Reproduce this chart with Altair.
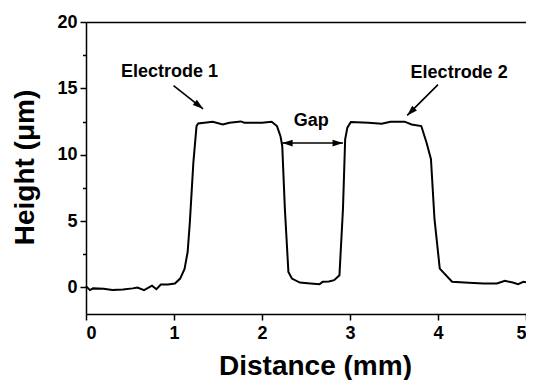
import altair as alt
import pandas as pd

# Profile data
x_mm = [0.0, 0.045, 0.08, 0.2, 0.30, 0.42, 0.53, 0.585, 0.66, 0.75, 0.80, 0.85, 0.93,
        1.01, 1.07, 1.12, 1.155, 1.18, 1.22, 1.256, 1.275, 1.44, 1.555, 1.63, 1.76, 1.80,
        1.9, 2.0, 2.11, 2.17, 2.21, 2.23, 2.26, 2.30, 2.34, 2.43, 2.55, 2.655, 2.69, 2.76,
        2.82, 2.88, 2.92, 2.945, 2.97, 3.01, 3.21, 3.36, 3.46, 3.62, 3.70, 3.81, 3.87,
        3.92, 3.96, 4.02, 4.16, 4.35, 4.52, 4.67, 4.76, 4.85, 4.91, 4.97, 5.0]
height_um = [0.1, -0.2, -0.07, -0.1, -0.2, -0.15, -0.07, 0.0, -0.2, 0.13, -0.13, 0.22, 0.22,
             0.3, 0.67, 1.4, 2.67, 4.9, 9.4, 12.16, 12.36, 12.49, 12.28, 12.41, 12.51, 12.41,
             12.41, 12.41, 12.49, 12.16, 11.4, 10.66, 5.9, 1.17, 0.67, 0.37, 0.3, 0.25, 0.43, 0.45,
             0.55, 0.92, 5.9, 11.16, 12.04, 12.46, 12.41, 12.33, 12.49, 12.49, 12.28, 12.16, 10.9,
             9.66, 5.17, 1.42, 0.43, 0.35, 0.3, 0.3, 0.5, 0.37, 0.25, 0.43, 0.4]

# Annotations
label_text = ["Electrode 1", "Electrode 2", "Gap"]
label_x = [0.95, 4.24, 2.56]
label_y = [15.88, 15.8, 12.2]

arrow_x1 = [0.995, 4.0, 2.23]
arrow_y1 = [15.2, 15.28, 10.88]
arrow_x2 = [1.33, 3.65, 2.92]
arrow_y2 = [13.46, 12.96, 10.88]

head_x = [1.33, 3.65, 2.23, 2.92]
head_y = [13.46, 12.96, 10.88, 10.88]
head_angle = [128, 225, 270, 90]

x_ticks = [0, 0.5, 1, 1.5, 2, 2.5, 3, 3.5, 4, 4.5, 5]
y_ticks = [0, 2.5, 5, 7.5, 10, 12.5, 15, 17.5, 20]

FONT = "Liberation Sans"

profile = pd.DataFrame({"x": x_mm, "y": height_um})
labels = pd.DataFrame({"x": label_x, "y": label_y, "t": label_text})
arrows = pd.DataFrame({"x": arrow_x1, "y": arrow_y1, "x2": arrow_x2, "y2": arrow_y2})
heads = pd.DataFrame({"x": head_x, "y": head_y, "a": head_angle})

xscale = alt.Scale(domain=[0, 5], nice=False, zero=False)
yscale = alt.Scale(domain=[-2, 20], nice=False, zero=False)

x_axis = alt.Axis(
    values=x_ticks,
    labelExpr="datum.value % 1 === 0 ? datum.label : ''",
    tickSize={"condition": {"test": "datum.value % 1 !== 0", "value": 3.5}, "value": 6},
    title="Distance (mm)",
    titleX=229, titleY=60, titleBaseline="alphabetic", titleAlign="center",
    labelPadding=4, format="d",
)
y_axis = alt.Axis(
    values=y_ticks,
    labelExpr="datum.value % 5 === 0 ? datum.label : ''",
    tickSize={"condition": {"test": "datum.value % 5 !== 0", "value": 3.5}, "value": 6},
    title="Height (\u03bcm)",
    titleX=-53, titleY=145, titleBaseline="alphabetic", titleAlign="center", titleAngle=-90,
    labelPadding=3,
)

line = alt.Chart(profile).mark_line(color="black", strokeWidth=2).encode(
    x=alt.X("x:Q", scale=xscale, axis=x_axis),
    y=alt.Y("y:Q", scale=yscale, axis=y_axis),
)

top_frame = alt.Chart(profile).mark_line(opacity=0).encode(
    x=alt.X("x:Q", scale=xscale,
            axis=alt.Axis(orient="top", labels=False, ticks=False, title=None,
                          domainColor="black", domainWidth=1.5)),
    y=alt.Y("y:Q", scale=yscale, axis=None),
)

rules = alt.Chart(arrows).mark_rule(color="black", strokeWidth=1.6).encode(
    x=alt.X("x:Q", scale=xscale, axis=None),
    y=alt.Y("y:Q", scale=yscale, axis=None),
    x2="x2:Q", y2="y2:Q",
)

arrowheads = alt.Chart(heads).mark_point(
    shape="M0,0 L0.55,1.7 L-0.55,1.7 Z", filled=True, color="black", opacity=1, size=150,
).encode(
    x=alt.X("x:Q", scale=xscale, axis=None),
    y=alt.Y("y:Q", scale=yscale, axis=None),
    angle=alt.Angle("a:Q", scale=None),
)

texts = alt.Chart(labels).mark_text(
    font=FONT, fontSize=18, fontWeight="bold", color="black",
    align="center", baseline="alphabetic",
).encode(
    x=alt.X("x:Q", scale=xscale, axis=None),
    y=alt.Y("y:Q", scale=yscale, axis=None),
    text="t:N",
)

chart = alt.layer(line, top_frame, rules, arrowheads, texts).resolve_axis(
    x="independent", y="independent"
).properties(
    width=440, height=292,
    autosize=alt.AutoSizeParams(type="none"),
    padding={"left": 78, "top": 14, "right": 0, "bottom": 66},
).configure_view(
    stroke=None
).configure_axis(
    grid=False,
    domainColor="black", domainWidth=1.5,
    tickColor="black", tickWidth=1.5,
    labelFont=FONT, labelFontSize=18, labelFontWeight="bold", labelColor="black",
    titleFont=FONT, titleFontSize=28, titleFontWeight="bold", titleColor="black",
)

chart.save("out.html", embed_options={"renderer": "svg", "actions": False})
